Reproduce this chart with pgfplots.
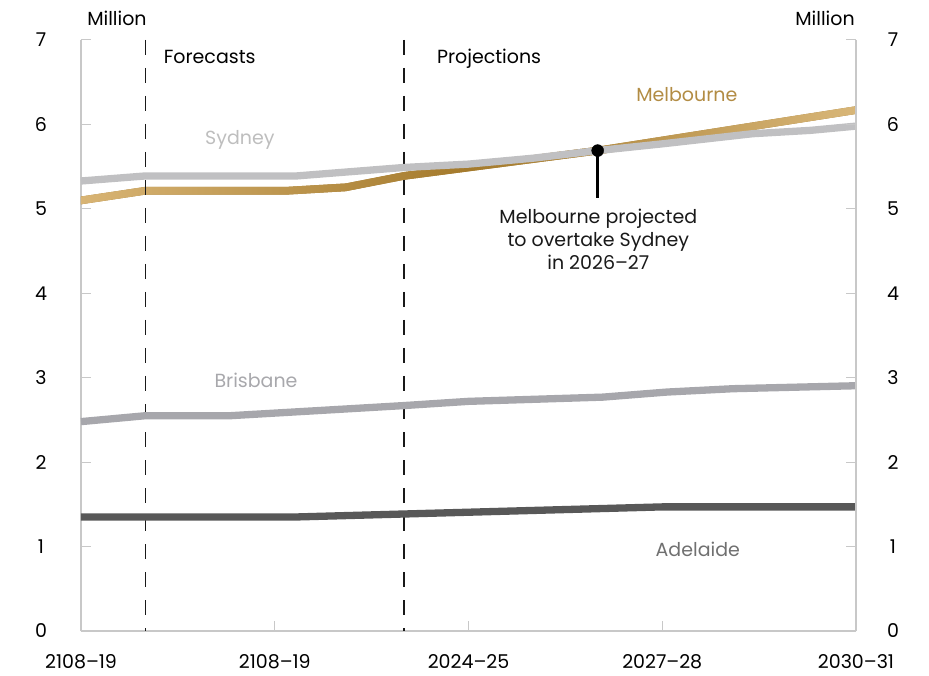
\documentclass[border=0pt]{standalone}
\usepackage{fontspec}
\setmainfont{Poppins}
\usepackage{pgfplots}
\usepackage{pgfplotstable}
\pgfplotsset{compat=1.18}
\usepgfplotslibrary{fillbetween}

\definecolor{sydgray}{RGB}{192,192,194}
\definecolor{brisgray}{RGB}{167,167,172}
\definecolor{adelgray}{RGB}{88,88,88}
\definecolor{axisgray}{RGB}{200,200,200}
\definecolor{melL}{RGB}{216,180,116}
\definecolor{melM}{RGB}{164,122,44}
\definecolor{melR}{RGB}{216,182,120}
\definecolor{sydtext}{RGB}{190,190,190}
\definecolor{bristext}{RGB}{168,168,172}
\definecolor{meltext}{RGB}{178,140,68}
\definecolor{adeltext}{RGB}{112,112,112}

% population, million (x = years since 2018-19)
\pgfplotstableread{
x y
0 5.33
1 5.39
3.34 5.39
5 5.49
6 5.53
7 5.60
8 5.69
9 5.77
10.4 5.89
11.3 5.93
12 5.98
}\sydney

\pgfplotstableread{
x y
0 5.10
1 5.215
3.2 5.215
4.1 5.255
5 5.39
8 5.69
12 6.17
}\melb

\pgfplotstableread{
x y
0 2.48
1 2.55
2.31 2.55
5 2.67
6 2.72
8.08 2.77
9.07 2.83
10.1 2.87
12 2.905
}\brisbane

\pgfplotstableread{
x y
0 1.35
3.3 1.35
9 1.47
12 1.47
}\adelaide

\newcommand{\lbl}{\fontsize{19}{23}\selectfont}

\begin{document}
\begin{tikzpicture}
\pgfplotsset{
  common/.style={
    at={(0,0)}, anchor=south west,
    scale only axis, width=775pt, height=591pt,
    xmin=0, xmax=12, ymin=0, ymax=7,
    ytick={0,1,...,7},
    tick align=inside,
    major tick length=10pt,
    every tick/.style={draw=axisgray, line width=1pt},
    axis line style={draw=axisgray, line width=1.2pt},
    tick label style={font=\lbl},
    /pgf/number format/assume math mode=true,
    clip=false,
  }
}
\begin{axis}[common,
  axis x line*=bottom, axis y line*=left,
  xtick={0,3,6,9,12},
  xticklabels={2108--19,2108--19,2024--25,2027--28,2030--31},
  xticklabel style={anchor=center, yshift=-31pt},
  yticklabel style={anchor=center, xshift=-40pt},
]
% forecast / projection boundaries
\draw[black!90, line width=1.7pt, dash pattern=on 15pt off 13pt] (axis cs:1,7) -- (axis cs:1,0);
\draw[black!90, line width=1.7pt, dash pattern=on 15pt off 13pt] (axis cs:5,7) -- (axis cs:5,0);

\addplot[adelgray, line width=7.3pt, line join=round] table[x=x,y=y]{\adelaide};
\addplot[brisgray, line width=7.3pt, line join=round] table[x=x,y=y]{\brisbane};
\addplot[sydgray, line width=7.3pt, line join=round] table[x=x,y=y]{\sydney};

% Melbourne: band with a left-to-right colour shading
\addplot[name path=mtop, draw=none, forget plot] table[x=x, y expr=\thisrow{y}+0.046]{\melb};
\addplot[name path=mbot, draw=none, forget plot] table[x=x, y expr=\thisrow{y}-0.046]{\melb};
\addplot[draw=none, fill=melM, left color=melL, right color=melR, middle color=melM] fill between[of=mtop and mbot];

% crossover marker
\draw[black, line width=3pt] (axis cs:8,5.69) -- (axis cs:8,5.13);
\addplot[only marks, mark=*, mark size=6pt, black] coordinates {(8,5.69)};
\node[font=\lbl, align=center, text=black!90] at (axis cs:8.01,4.64)
  {Melbourne projected\\[0pt]to overtake Sydney\\[0pt]in 2026--27};

\node[font=\lbl, text=sydtext] at (axis cs:2.46,5.815) {Sydney};
\node[font=\lbl, text=meltext] at (axis cs:9.38,6.35) {Melbourne};
\node[font=\lbl, text=bristext] at (axis cs:2.71,2.97) {Brisbane};
\node[font=\lbl, text=adeltext] at (axis cs:9.55,0.97) {Adelaide};

\node[font=\lbl, anchor=base west, inner sep=0pt] at (axis cs:1.28,6.716) {Forecasts};
\node[font=\lbl, anchor=base west, inner sep=0pt] at (axis cs:5.51,6.716) {Projections};

\node[font=\lbl, anchor=base, inner sep=0pt] at (axis cs:0.557,7.166) {Million};
\node[font=\lbl, anchor=base, inner sep=0pt] at (axis cs:11.52,7.166) {Million};
\end{axis}

\begin{axis}[common,
  axis x line=none, axis y line*=right,
  yticklabel style={anchor=center, xshift=37pt},
]
\addplot[draw=none] coordinates {(0,0) (12,7)};
\end{axis}
\pgfresetboundingbox
\path[use as bounding box] (-81pt,-44pt) rectangle (848pt,631pt);
\end{tikzpicture}
\end{document}
